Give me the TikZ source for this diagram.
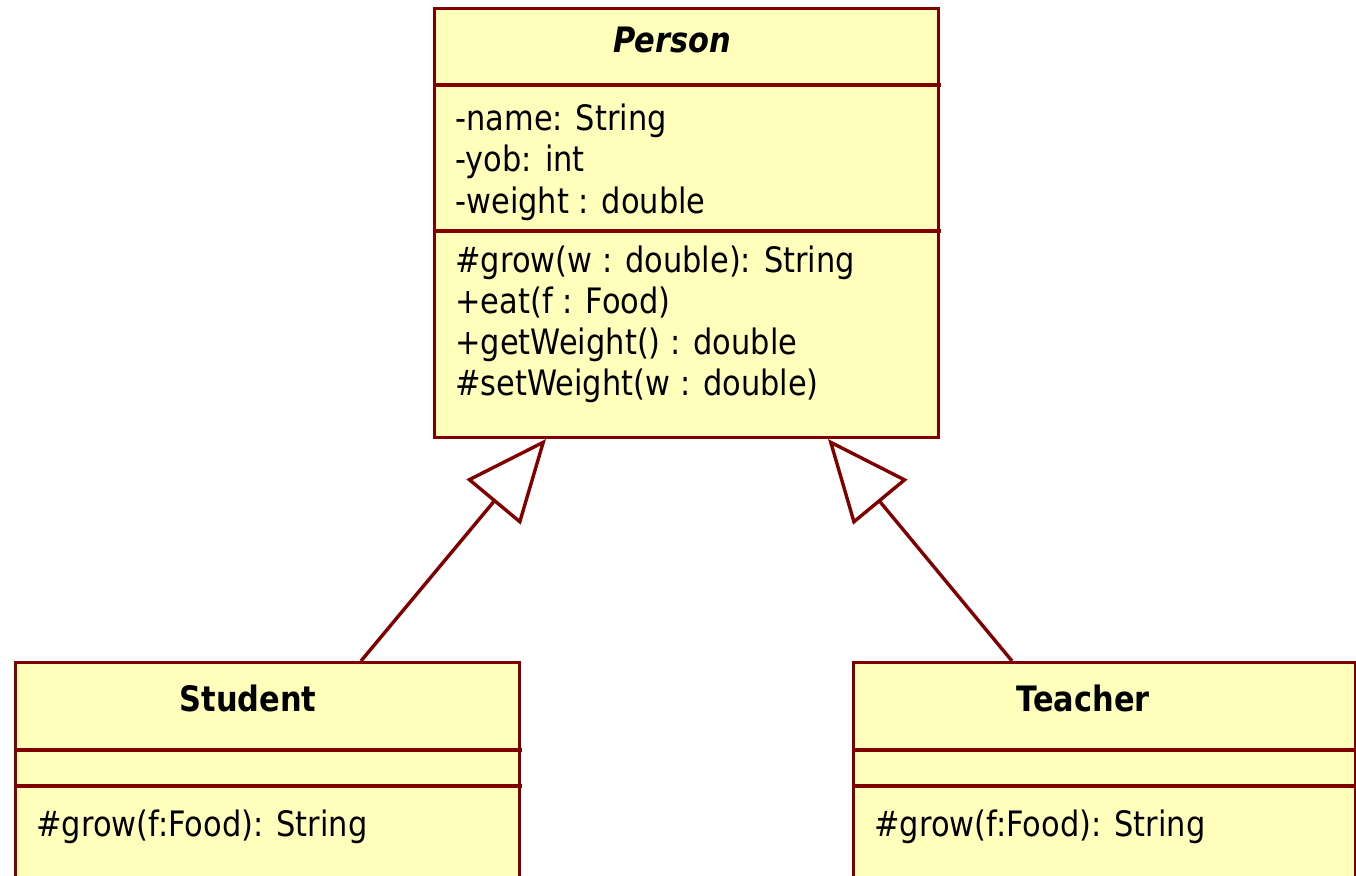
\documentclass[tikz,border=0pt]{standalone}
\usepackage{fontspec}
\setmainfont{DejaVu Sans}[FakeStretch=0.87]
\usetikzlibrary{arrows.meta}
\definecolor{umlline}{RGB}{128,0,0}
\definecolor{umlfill}{RGB}{255,255,187}
\begin{document}
\begin{tikzpicture}[x=0.5pt,y=-0.5pt,
  classbox/.style={draw=umlline, fill=umlfill, line width=1.7pt, rectangle,
    inner sep=0pt, anchor=north west},
  divider/.style={draw=umlline, line width=1.7pt},
  member/.style={anchor=base west, inner sep=0pt,
    font=\fontsize{17.5pt}{21pt}\selectfont},
  classname/.style={anchor=base, inner sep=0pt,
    font=\fontsize{17.5pt}{21pt}\selectfont\bfseries},
  gen/.style={draw=umlline, line width=1.7pt,
    -{Triangle[fill=white, length=41pt, width=35pt]}}]
\useasboundingbox (0,0) rectangle (1356,876);

% class boxes
\node[classbox, minimum width=252pt, minimum height=214.5pt] (person) at (433,7) {};
\node[classbox, minimum width=252pt, minimum height=112pt] (student) at (14,661) {};
\node[classbox, minimum width=251pt, minimum height=112pt] (teacher) at (852,661) {};

% compartment dividers
\draw[divider] (433,85) -- (941,85);
\draw[divider] (433,231) -- (941,231);
\draw[divider] (14,750) -- (522,750);
\draw[divider] (14,786) -- (522,786);
\draw[divider] (852,750) -- (1356,750);
\draw[divider] (852,786) -- (1356,786);

% Person
\node[classname, font=\fontsize{17.5pt}{21pt}\selectfont\bfseries\itshape] (personname) at (672,53) {Person};
\node[member] (pa1) at (455,131) {-name: String};
\node[member] (pa2) at (455,172) {-yob: int};
\node[member] (pa3) at (455,214) {-weight : double};
\node[member] (pm1) at (455,273) {\#grow(w : double): String};
\node[member] (pm2) at (455,314) {+eat(f : Food)};
\node[member] (pm3) at (455,355) {+getWeight() : double};
\node[member] (pm4) at (455,396) {\#setWeight(w : double)};

% Student
\node[classname] (studentname) at (248,712) {Student};
\node[member] (sm1) at (36,837) {\#grow(f:Food): String};

% Teacher
\node[classname] (teachername) at (1083,712) {Teacher};
\node[member] (tm1) at (874,837) {\#grow(f:Food): String};

% generalization connectors
\coordinate (sFoot) at (361,661);
\coordinate (sTip) at (546,439);
\coordinate (tFoot) at (1012,661);
\coordinate (tTip) at (828,439);
\draw[gen] (sFoot) -- (sTip);
\draw[gen] (tFoot) -- (tTip);
\end{tikzpicture}
\end{document}
